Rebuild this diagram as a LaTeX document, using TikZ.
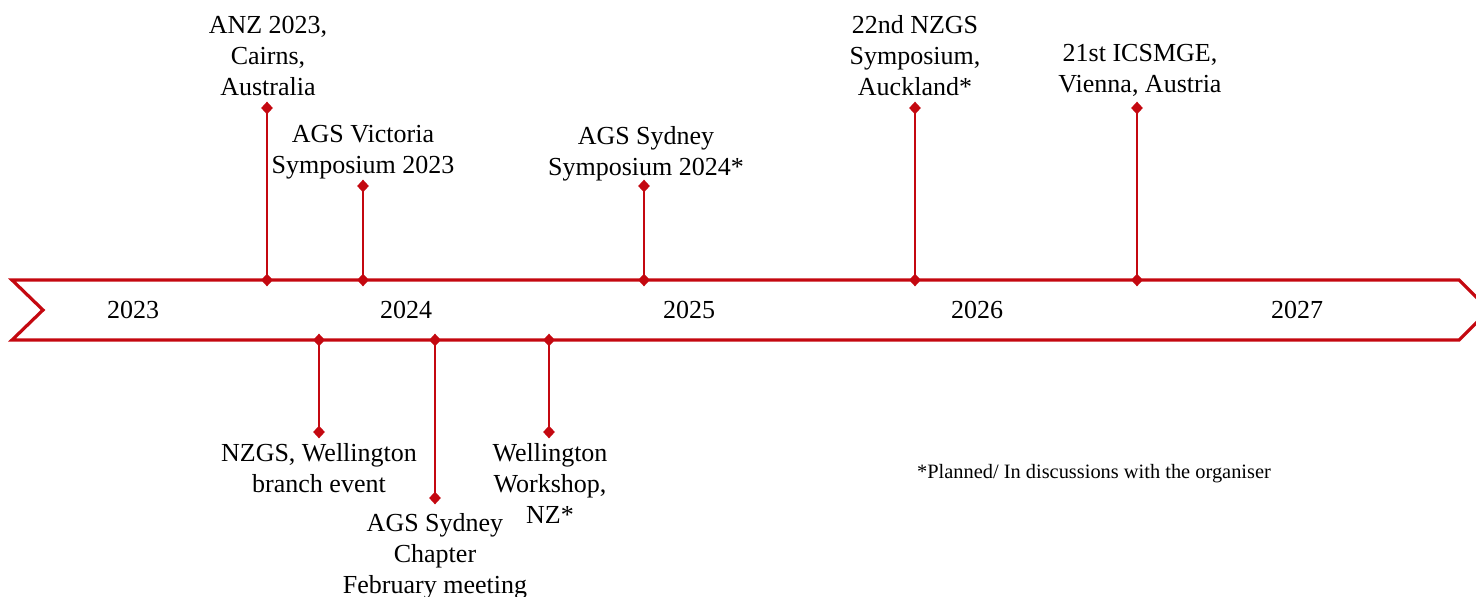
\documentclass[tikz,border=0pt]{standalone}
\usepackage{fontspec}
\setmainfont{Liberation Serif}
\usetikzlibrary{shapes.geometric}
\definecolor{tlred}{RGB}{196,8,16}
\begin{document}
\begin{tikzpicture}[x=0.5pt,y=-0.5pt,
  band/.style={draw=tlred,line width=1.6pt,line join=miter},
  stem/.style={draw=tlred,line width=1.4pt},
  dot/.style={diamond,fill=tlred,inner sep=0pt,minimum width=6pt,minimum height=6.5pt},
  lbl/.style={font=\fontsize{13}{15.5}\selectfont,align=center,anchor=base,inner sep=0pt},
  yr/.style={font=\fontsize{13}{15.5}\selectfont,anchor=base,inner sep=0pt},
  note/.style={font=\fontsize{10.2}{12}\selectfont,anchor=base,inner sep=0pt}]
\useasboundingbox (0,0) rectangle (1476,596);
\begin{scope}
\clip (0,0) rectangle (1476,596);
\draw[band] (12,280) -- (1459,280) -- (1489,310) -- (1459,340) -- (12,340) -- (43,310) -- cycle;
\end{scope}
% years
\node[yr] (y23) at (133,318) {2023};
\node[yr] (y24) at (406,318) {2024};
\node[yr] (y25) at (689,318) {2025};
\node[yr] (y26) at (977,318) {2026};
\node[yr] (y27) at (1297,318) {2027};
% up events
\foreach \n/\x/\t in {anz/267/108, vic/363/186, syd/644/186, nzgs/915/108, icsm/1137/108}{
  \node[dot] (\n b) at (\x,280) {};
  \node[dot] (\n t) at (\x,\t) {};
  \draw[stem] (\n b.center) -- (\n t.center);
}
% down events
\foreach \n/\x/\t in {wel/319/432, sch/435/498, wsh/549/432}{
  \node[dot] (\n b) at (\x,340) {};
  \node[dot] (\n t) at (\x,\t) {};
  \draw[stem] (\n b.center) -- (\n t.center);
}
\node[lbl] (anzl) at (268,95) {ANZ 2023,\\Cairns,\\Australia};
\node[lbl] (vicl) at (363,173) {AGS Victoria\\Symposium 2023};
\node[lbl] (sydl) at (646,175) {AGS Sydney\\Symposium 2024*};
\node[lbl] (nzgsl) at (915,95) {22nd NZGS\\Symposium,\\Auckland*};
\node[lbl] (icsml) at (1140,92) {21st ICSMGE,\\Vienna, Austria};
\node[lbl] (well) at (319,492) {NZGS, Wellington\\branch event};
\node[lbl] (schl) at (435,593) {AGS Sydney\\Chapter\\February meeting};
\node[lbl] (wshl) at (550,523) {Wellington\\Workshop,\\NZ*};
\node[note] (fn) at (1094,478) {*Planned/ In discussions with the organiser};
\end{tikzpicture}
\end{document}
